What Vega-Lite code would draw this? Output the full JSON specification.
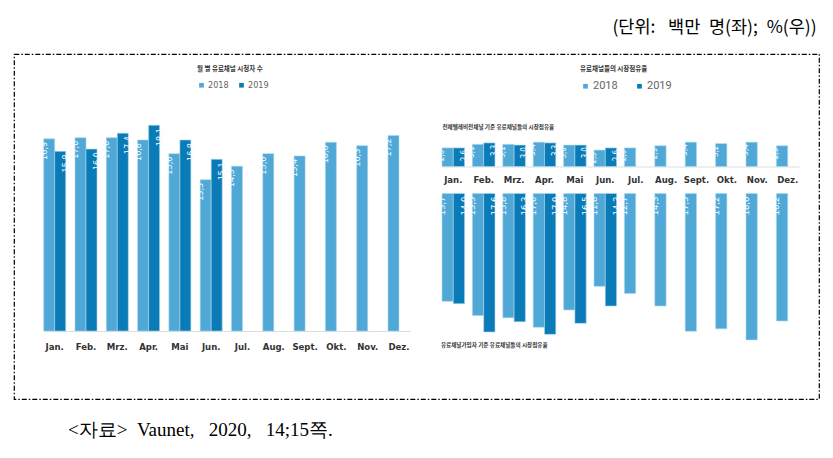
{
  "$schema": "https://vega.github.io/schema/vega-lite/v6.json",
  "padding": {"left": 13, "top": 18, "right": 5, "bottom": 5},
  "background": "#ffffff",
  "title": {"text": "(단위:\u2002\u00a0백만\u2002명(좌);\u2002%(우))", "anchor": "end", "font": "Noto Sans CJK KR", "fontSize": 17.5, "fontWeight": "normal", "color": "#000000", "offset": 17, "dx": -3},
  "datasets": {
    "d": [
      {"month": "Jan.", "year": "2018", "viewers": 16.9, "total": 2.6, "pay": 13.7},
      {"month": "Feb.", "year": "2018", "viewers": 17.0, "total": 3.1, "pay": 15.5},
      {"month": "Mrz.", "year": "2018", "viewers": 17.0, "total": 3.1, "pay": 15.8},
      {"month": "Apr.", "year": "2018", "viewers": 16.8, "total": 3.4, "pay": 17.0},
      {"month": "Mai", "year": "2018", "viewers": 15.6, "total": 3.0, "pay": 14.8},
      {"month": "Jun.", "year": "2018", "viewers": 13.3, "total": 2.3, "pay": 11.8},
      {"month": "Jul.", "year": "2018", "viewers": 14.5, "total": 2.6, "pay": 12.7},
      {"month": "Aug.", "year": "2018", "viewers": 15.6, "total": 2.9, "pay": 14.3},
      {"month": "Sept.", "year": "2018", "viewers": 15.4, "total": 3.4, "pay": 17.5},
      {"month": "Okt.", "year": "2018", "viewers": 16.6, "total": 3.2, "pay": 17.2},
      {"month": "Nov.", "year": "2018", "viewers": 16.3, "total": 3.4, "pay": 18.6},
      {"month": "Dez.", "year": "2018", "viewers": 17.2, "total": 2.9, "pay": 16.2},
      {"month": "Jan.", "year": "2019", "viewers": 15.8, "total": 2.6, "pay": 14.0},
      {"month": "Feb.", "year": "2019", "viewers": 16.0, "total": 3.3, "pay": 17.6},
      {"month": "Mrz.", "year": "2019", "viewers": 17.4, "total": 3.0, "pay": 16.3},
      {"month": "Apr.", "year": "2019", "viewers": 18.1, "total": 3.3, "pay": 17.9},
      {"month": "Mai", "year": "2019", "viewers": 16.8, "total": 3.0, "pay": 16.5},
      {"month": "Jun.", "year": "2019", "viewers": 15.1, "total": 2.6, "pay": 14.3}
    ]
  },
  "vconcat": [
    {
      "width": 805,
      "height": 345,
      "title": {"text": "<자료>\u2002Vaunet,\u2002\u00a02020,\u2002\u00a014;15쪽.", "orient": "bottom", "anchor": "start", "font": "Liberation Serif", "fontSize": 19, "fontWeight": "normal", "color": "#000000", "dx": 54, "offset": 22},
      "data": {"name": "d"},
      "resolve": {
        "scale": {"x": "independent", "y": "independent", "xOffset": "independent", "color": "independent"},
        "axis": {"x": "independent", "y": "independent"},
        "legend": {"color": "independent"}
      },
      "layer": [
        {
          "mark": {"type": "bar", "stroke": "#a9d8ef", "strokeWidth": 0.6},
          "encoding": {
            "x": {"field": "month", "type": "nominal", "sort": null,
              "scale": {"domain": ["Jan.","Feb.","Mrz.","Apr.","Mai","Jun.","Jul.","Aug.","Sept.","Okt.","Nov.","Dez."], "range": [29.7, 396], "paddingInner": 0.297, "paddingOuter": 0},
              "axis": {"orient": "bottom", "offset": -68, "title": null, "labelPadding": 10}},
            "xOffset": {"field": "year", "type": "nominal", "scale": {"domain": ["2018", "2019"], "paddingInner": 0, "paddingOuter": 0}},
            "y": {"field": "viewers", "type": "quantitative", "scale": {"domain": [0, 20], "range": [277, 49.6], "nice": false}, "axis": null},
            "color": {"field": "year", "type": "nominal", "scale": {"domain": ["2018", "2019"], "range": ["#4fa8d5", "#0a7bb7"]},
              "legend": {"title": "월 별 유료채널 시청자 수", "orient": "none", "legendX": 183, "legendY": 12, "direction": "horizontal", "columnPadding": 8, "labelFontSize": 9, "titlePadding": 8}}
          }
        },
        {
          "mark": {"type": "text", "angle": 270, "align": "right", "baseline": "middle", "dx": -3, "color": "#f4fbff"},
          "encoding": {
            "x": {"field": "month", "type": "nominal", "sort": null,
              "scale": {"domain": ["Jan.","Feb.","Mrz.","Apr.","Mai","Jun.","Jul.","Aug.","Sept.","Okt.","Nov.","Dez."], "range": [29.7, 396], "paddingInner": 0.297, "paddingOuter": 0},
              "axis": null},
            "xOffset": {"field": "year", "type": "nominal", "scale": {"domain": ["2018", "2019"], "paddingInner": 0, "paddingOuter": 0}},
            "y": {"field": "viewers", "type": "quantitative", "scale": {"domain": [0, 20], "range": [277, 49.6], "nice": false}, "axis": null},
            "text": {"field": "viewers", "type": "quantitative", "format": ".1f"}
          }
        },
        {
          "mark": {"type": "bar", "stroke": "#a9d8ef", "strokeWidth": 0.6},
          "encoding": {
            "x": {"field": "month", "type": "nominal", "sort": null,
              "scale": {"domain": ["Jan.","Feb.","Mrz.","Apr.","Mai","Jun.","Jul.","Aug.","Sept.","Okt.","Nov.","Dez."], "range": [428, 785], "paddingInner": 0.257, "paddingOuter": 0},
              "axis": {"orient": "bottom", "offset": -232.5, "title": null, "labelPadding": 8}},
            "xOffset": {"field": "year", "type": "nominal", "scale": {"domain": ["2018", "2019"], "paddingInner": 0, "paddingOuter": 0}},
            "y": {"field": "total", "type": "quantitative", "scale": {"domain": [0, 4], "range": [112.5, 83.9], "nice": false}, "axis": null},
            "color": {"field": "year", "type": "nominal", "scale": {"domain": ["2018", "2019"], "range": ["#4fa8d5", "#0a7bb7"]},
              "legend": {"title": "유료채널들의 시장점유율", "orient": "none", "legendX": 566, "legendY": 12, "direction": "horizontal", "columnPadding": 16, "labelFontSize": 11, "labelFont": "Roboto", "titlePadding": 8}}
          }
        },
        {
          "mark": {"type": "text", "angle": 270, "align": "right", "baseline": "middle", "dx": -2, "color": "#f4fbff", "fontSize": 8},
          "encoding": {
            "x": {"field": "month", "type": "nominal", "sort": null,
              "scale": {"domain": ["Jan.","Feb.","Mrz.","Apr.","Mai","Jun.","Jul.","Aug.","Sept.","Okt.","Nov.","Dez."], "range": [428, 785], "paddingInner": 0.257, "paddingOuter": 0},
              "axis": null},
            "xOffset": {"field": "year", "type": "nominal", "scale": {"domain": ["2018", "2019"], "paddingInner": 0, "paddingOuter": 0}},
            "y": {"field": "total", "type": "quantitative", "scale": {"domain": [0, 4], "range": [112.5, 83.9], "nice": false}, "axis": null},
            "text": {"field": "total", "type": "quantitative", "format": ".1f"}
          }
        },
        {
          "mark": {"type": "bar", "stroke": "#a9d8ef", "strokeWidth": 0.6},
          "encoding": {
            "x": {"field": "month", "type": "nominal", "sort": null,
              "scale": {"domain": ["Jan.","Feb.","Mrz.","Apr.","Mai","Jun.","Jul.","Aug.","Sept.","Okt.","Nov.","Dez."], "range": [428, 785], "paddingInner": 0.257, "paddingOuter": 0},
              "axis": null},
            "xOffset": {"field": "year", "type": "nominal", "scale": {"domain": ["2018", "2019"], "paddingInner": 0, "paddingOuter": 0}},
            "y": {"field": "pay", "type": "quantitative", "scale": {"domain": [0, 20], "range": [139.5, 296.9], "nice": false}, "axis": null},
            "color": {"field": "year", "type": "nominal", "scale": {"domain": ["2018", "2019"], "range": ["#4fa8d5", "#0a7bb7"]}, "legend": null}
          }
        },
        {
          "mark": {"type": "text", "angle": 270, "align": "right", "baseline": "middle", "dx": -3, "color": "#f4fbff", "fontSize": 9.5},
          "encoding": {
            "x": {"field": "month", "type": "nominal", "sort": null,
              "scale": {"domain": ["Jan.","Feb.","Mrz.","Apr.","Mai","Jun.","Jul.","Aug.","Sept.","Okt.","Nov.","Dez."], "range": [428, 785], "paddingInner": 0.257, "paddingOuter": 0},
              "axis": null},
            "xOffset": {"field": "year", "type": "nominal", "scale": {"domain": ["2018", "2019"], "paddingInner": 0, "paddingOuter": 0}},
            "y": {"datum": 0, "type": "quantitative", "scale": {"domain": [0, 20], "range": [139.5, 296.9], "nice": false}, "axis": null},
            "text": {"field": "pay", "type": "quantitative", "format": ".1f"}
          }
        },
        {
          "data": {"values": [{"t": "전체텔레비전채널 기준 유료채널들의 시장점유율"}]},
          "mark": {"type": "text", "align": "left", "baseline": "middle", "dx": -14.5, "font": "Noto Sans CJK KR", "fontSize": 5.6, "fontWeight": "bold", "color": "#333333"},
          "encoding": {
            "x": {"datum": "Jan.", "type": "nominal",
              "scale": {"domain": ["Jan.","Feb.","Mrz.","Apr.","Mai","Jun.","Jul.","Aug.","Sept.","Okt.","Nov.","Dez."], "range": [428, 785], "paddingInner": 0.257, "paddingOuter": 0},
              "axis": null},
            "y": {"datum": 5.57, "type": "quantitative", "scale": {"domain": [0, 4], "range": [112.5, 83.9], "nice": false}, "axis": null},
            "text": {"field": "t", "type": "nominal"}
          }
        },
        {
          "data": {"values": [{"t": "유료채널가입자 기준 유료채널들의 시장점유율"}]},
          "mark": {"type": "text", "align": "left", "baseline": "middle", "dx": -16, "font": "Noto Sans CJK KR", "fontSize": 5.6, "fontWeight": "bold", "color": "#333333"},
          "encoding": {
            "x": {"datum": "Jan.", "type": "nominal",
              "scale": {"domain": ["Jan.","Feb.","Mrz.","Apr.","Mai","Jun.","Jul.","Aug.","Sept.","Okt.","Nov.","Dez."], "range": [428, 785], "paddingInner": 0.257, "paddingOuter": 0},
              "axis": null},
            "y": {"datum": 19.2, "type": "quantitative", "scale": {"domain": [0, 20], "range": [139.5, 296.9], "nice": false}, "axis": null},
            "text": {"field": "t", "type": "nominal"}
          }
        }
      ]
    }
  ],
  "config": {
    "font": "Noto Sans CJK KR",
    "text": {"font": "DejaVu Sans Condensed, Roboto, sans-serif", "fontSize": 9},
    "view": {"stroke": "#000000", "strokeWidth": 1.2, "strokeDash": [5, 2, 1.5, 2]},
    "axis": {"domainColor": "#dddddd", "domainWidth": 1, "ticks": false, "grid": false, "labelFont": "DejaVu Sans Condensed, Roboto, sans-serif", "labelFontSize": 9.5, "labelFontWeight": "bold", "labelColor": "#333333", "labelAngle": 0},
    "legend": {"symbolType": "square", "symbolSize": 22, "symbolStrokeWidth": 0, "padding": 0, "titleFont": "Noto Sans CJK KR", "titleFontSize": 6.5, "titleFontWeight": "bold", "titleColor": "#333333", "titleAnchor": "start", "labelColor": "#666666", "labelOffset": 2, "labelFont": "DejaVu Sans Condensed, Roboto, sans-serif"},
    "locale": {"number": {"decimal": ",", "thousands": ".", "grouping": [3], "currency": ["", " €"]}}
  }
}
